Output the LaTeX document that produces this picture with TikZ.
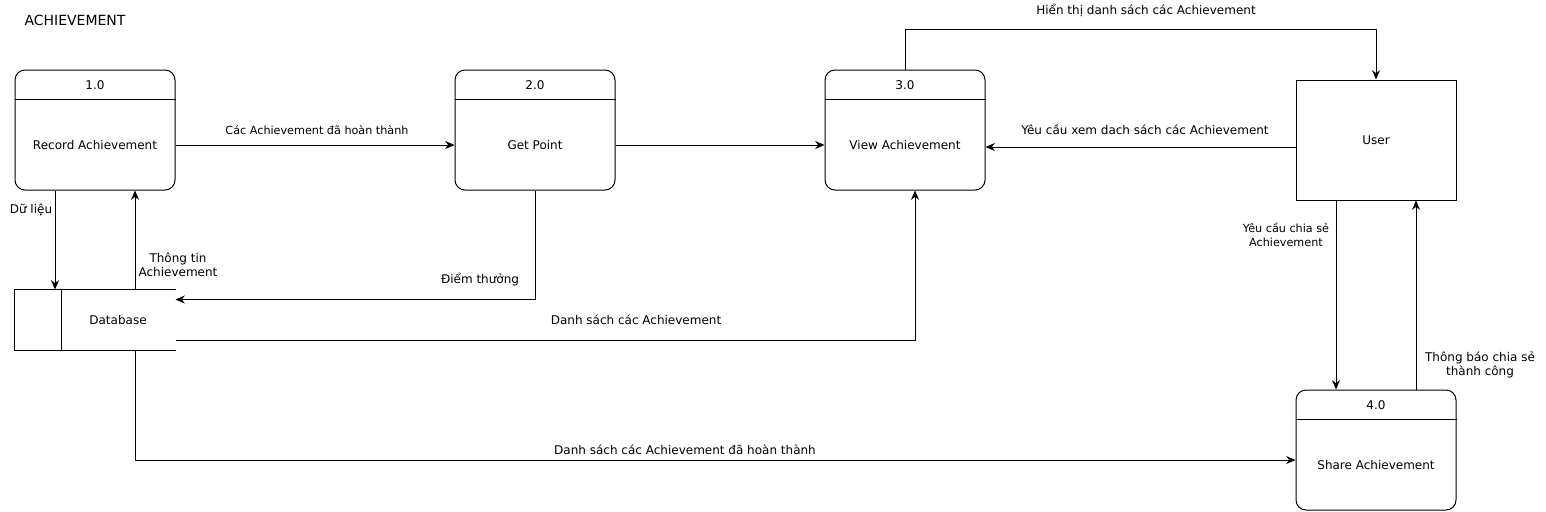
\documentclass[tikz,border=0pt]{standalone}
\usepackage{fontspec}
\setmainfont{DejaVu Sans}
\usetikzlibrary{calc,arrows.meta}

\begin{document}
\begin{tikzpicture}[x=0.75pt, y=-0.75pt, line width=0.75pt,
    process/.style={draw, rounded corners=7.5pt, minimum width=120pt, minimum height=90pt, inner sep=0pt},
    entity/.style={draw, minimum width=120pt, minimum height=90pt, inner sep=0pt},
    store/.style={minimum width=120pt, minimum height=45pt, inner sep=0pt},
    txt/.style={font=\fontsize{9}{10.5}\selectfont, inner sep=0pt},
    lbl/.style={font=\fontsize{9}{10.5}\selectfont, align=center, inner sep=0pt},
    small/.style={font=\fontsize{8.4}{10.5}\selectfont, align=center, inner sep=0pt},
    flow/.style={-{Stealth[length=7pt, width=6pt]}}]

    \useasboundingbox (0,0) rectangle (1546,511);

    \def\headH{22.5pt}
    \def\mid{11.25pt}

    \node[anchor=west, font=\fontsize{10.5}{12}\selectfont, inner sep=0pt] (title) at (24,20) {ACHIEVEMENT};

    % Tiến trình
    \node[process] (p1) at (95,130) {};
    \node[process] (p2) at (535,130) {};
    \node[process] (p3) at (905,130) {};
    \node[process] (p4) at (1376,450) {};

    \foreach \p/\num/\name in {p1/1.0/Record Achievement, p2/2.0/Get Point,
                               p3/3.0/View Achievement, p4/4.0/Share Achievement} {
        \draw ([yshift=-\headH]\p.north west) -- ([yshift=-\headH]\p.north east);
        \node[txt] (\p-num) at ([yshift=-12pt]\p.north) {\num};
        \node[txt] (\p-name) at ([yshift=-\mid]\p.center) {\name};
    }

    \node[entity, txt] (user) at (1376,140) {User};

    % Kho dữ liệu
    \node[store] (db) at (95,320) {};
    \draw (db.north east) -- (db.north west) -- (db.south west) -- (db.south east);
    \draw ([xshift=35.25pt]db.north west) -- ([xshift=35.25pt]db.south west);
    \node[txt] (db-name) at ([xshift=17.25pt]db.center) {Database};

    % Luồng dữ liệu
    \draw[flow] ([yshift=-\mid]p1.east) -- ([yshift=-\mid]p2.west);
    \draw[flow] ([yshift=-\mid]p2.east) -- ([yshift=-\mid]p3.west);
    \draw[flow] ([yshift=-5.25pt]user.west) -- ([yshift=-5.25pt]user.west -| p3.east);
    \draw[flow] (p3.north) -- ++(0,-40) -| (user.north);
    \draw[flow] ([xshift=-30pt]p1.south) -- ([xshift=-30pt]p1.south |- db.north);
    \draw[flow] ([xshift=30pt]db.north) -- ([xshift=30pt]db.north |- p1.south);
    \draw[flow] (p2.south) |- ([yshift=-7.5pt]db.north east);
    \draw[flow] ([yshift=7.5pt]db.south east) -| ([xshift=7.5pt]p3.south);
    \draw[flow] ([xshift=30pt]db.south) |- ([yshift=-7.5pt]p4.west);
    \draw[flow] ([xshift=-30pt]user.south) -- ([xshift=-30pt]user.south |- p4.north);
    \draw[flow] ([xshift=30pt]p4.north) -- ([xshift=30pt]p4.north |- user.south);

    % Nhãn
    \node[small] (l-done) at (317,130) {Các Achievement đã hoàn thành};
    \node[lbl] (l-req) at (1145,130) {Yêu cầu xem dach sách các Achievement};
    \node[lbl] (l-show) at (1146,10) {Hiển thị danh sách các Achievement};
    \node[lbl] (l-data) at (31,210) {Dữ liệu};
    \node[lbl] (l-info) at (178,265) {Thông tin\\Achievement};
    \node[lbl] (l-point) at (480,280) {Điểm thưởng};
    \node[lbl] (l-list) at (636,320) {Danh sách các Achievement};
    \node[lbl] (l-listdone) at (685,450) {Danh sách các Achievement đã hoàn thành};
    \node[small] (l-share) at (1286,235) {Yêu cầu chia sẻ\\Achievement};
    \node[lbl] (l-ok) at (1480,365) {Thông báo chia sẻ\\thành công};

\end{tikzpicture}
\end{document}
